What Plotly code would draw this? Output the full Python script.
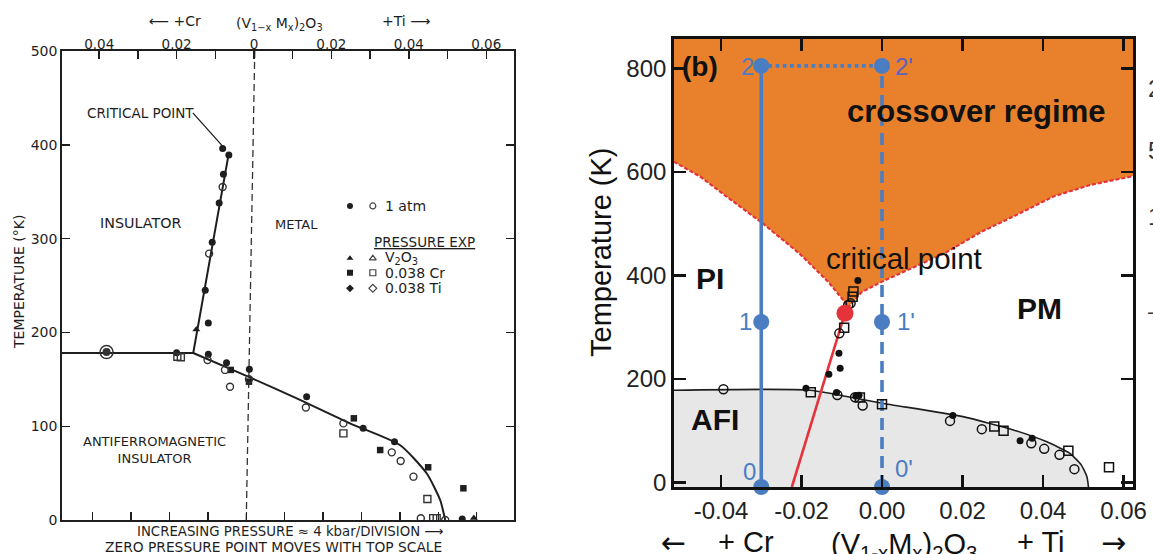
import plotly.graph_objects as go

W, H = 1153, 554

# ================= LEFT PANEL (original scanned phase diagram) =================
# phase boundaries (composition x, temperature K); Cr side negative
L_upper_x = [-0.0496, -0.0157, -0.0066]
L_upper_T = [178, 178, 389]
L_lower_x = [-0.0157, -0.0015, 0.0119, 0.0248, 0.0377, 0.0446, 0.0481, 0.0494]
L_lower_T = [178, 152.8, 128, 103.1, 80, 49.8, 21.3, 0]
L_pointer_x = [-0.0158, -0.0080]
L_pointer_T = [434, 398]
L_zero_x = [0.0002, -0.0020]
L_zero_T = [500, 0]

L_fc_x = [-0.0081, -0.0065, -0.0079, -0.0090, -0.0108, -0.0126, -0.0118, -0.0200,
          -0.0118, -0.0071, -0.0012, 0.0136, 0.0282, 0.0363, 0.0538]
L_fc_T = [396, 389, 368.5, 338, 296, 245, 210, 178.4, 176.6, 167.7, 160.6, 131.5,
          97.7, 83.5, 1]
L_ft_x = [-0.0149, 0.0568]
L_ft_T = [203, 2]
L_fs_x = [-0.0060, -0.0013, 0.0258, 0.0326, 0.0450, 0.0541]
L_fs_T = [160, 147.5, 108.4, 74.6, 56.2, 33.8]
L_oc_x = [-0.0081, -0.0116, -0.0120, -0.0075, -0.0062, -0.0013, 0.0134, 0.0231,
          0.0356, 0.0379, 0.0412, 0.0431, 0.0494]
L_oc_T = [355, 284, 170.6, 160, 142, 150, 120, 103, 72.1, 62.9, 46.2, 1.8, 0]
L_os_x = [-0.0198, -0.0189, 0.0231, 0.0448, 0.0463, 0.0472]
L_os_T = [174, 173.5, 92.4, 22.4, 2, 2]
L_big_x = [-0.0381]
L_big_T = [179]

# key (legend drawn inside the old figure)
L_key_T = [334.8, 279, 263.6, 247]
L_key_filled = ["circle", "triangle-up", "square", "diamond"]
L_key_open = ["circle-open", "triangle-up-open", "square-open", "diamond-open"]
L_key_labels = ["1 atm", "V<sub>2</sub>O<sub>3</sub>", "0.038 Cr", "0.038 Ti"]

L_xticks = [-0.04, -0.02, 0, 0.02, 0.04, 0.06]
L_xticktext = ["0.04", "0.02", "0", "0.02", "0.04", "0.06"]
L_yticks = [0, 100, 200, 300, 400, 500]
P_ticks = [-4, -3, -2, -1, 0, 1, 2, 3, 4, 5, 6]   # pressure divisions (4 kbar)

# ================= RIGHT PANEL (modern phase diagram) =================
R_cross_left_x = [-0.0517, -0.045, -0.0387, -0.0297, -0.0206, -0.0134, -0.0098, -0.0084]
R_cross_left_T = [620, 590, 553, 501, 443, 388, 354, 338]
R_cross_right_x = [-0.0084, -0.0052, 0.0, 0.0156, 0.0246, 0.0337, 0.0427, 0.0518, 0.0624]
R_cross_right_T = [338, 367, 388, 443, 484, 518, 553, 575, 592]

R_afi_x = [-0.0517, -0.0179, 0.0, 0.0201, 0.0326, 0.0408, 0.0466, 0.0495, 0.0509, 0.0513]
R_afi_T = [178, 178, 153, 127, 101.4, 78.8, 56.4, 33.8, 11.2, -9]

R_red_x = [-0.0224, -0.0092]
R_red_T = [-9, 327]
R_crit_x = [-0.0092]
R_crit_T = [327]

R_path_T = [-9, 310, 805]
R_path_x_solid = -0.03
R_path_x_dash = 0.0

R_fc_x = [-0.0189, -0.0113, -0.0065, -0.0057, 0.0176, 0.0343, 0.0373, -0.0060,
          -0.0107, -0.0104, -0.0132]
R_fc_T = [182, 173.5, 167, 168.5, 129, 80.2, 85.4, 390, 249.6, 220.6, 209]
R_oc_x = [-0.0394, -0.0111, -0.0067, -0.0048, 0.0169, 0.0248, 0.0371, 0.0403,
          0.0441, 0.0478, -0.0106, -0.0078, -0.0084]
R_oc_T = [180, 169, 164.6, 148.5, 118.8, 102.8, 75.7, 64.7, 53.1, 25.5, 288, 346, 343]
R_os_x = [-0.0177, -0.0055, 0.0, 0.0279, 0.0302, 0.0463, 0.0564, -0.0094, -0.0071, -0.0073]
R_os_T = [174, 164, 151, 107.8, 99.5, 60.9, 29.4, 299, 368.7, 359]

R_xticks = [-0.04, -0.02, 0.0, 0.02, 0.04, 0.06]
R_xticktext = ["-0.04", "-0.02", "0.00", "0.02", "0.04", "0.06"]
R_yticks = [0, 200, 400, 600, 800]

R_xmin, R_xmax = -0.05168, 0.06236
R_Tmin, R_Tmax = -9, 857

# fragments of a neighbouring panel's labels, cut by the image edge
EDGE_texts = ["2", "5", "1", "–"]
EDGE_y = [88, 150, 216, 310]

# ---------------- colours / fonts ----------------
INK = "#1e1e1e"
BLUE = "#4a7dc2"
ORANGE = "#e9812c"
RED = "#e5333b"
GREY = "#e7e7e7"
OLD = "DejaVu Sans, Verdana, sans-serif"
NEW = "Liberation Sans, Arial, Helvetica, sans-serif"

fig = go.Figure()

def sc(x, y, xa, ya, **kw):
    fig.add_trace(go.Scatter(x=x, y=y, xaxis=xa, yaxis=ya, showlegend=False,
                             hoverinfo="skip", **kw))

# ---- left panel traces ----
sc(L_zero_x, L_zero_T, "x", "y", mode="lines", line=dict(color="#333", width=1.3, dash="7px,4px"))
sc(L_upper_x, L_upper_T, "x", "y", mode="lines", line=dict(color=INK, width=2))
sc(L_lower_x, L_lower_T, "x", "y", mode="lines", line=dict(color=INK, width=2, shape="spline", smoothing=0.6))
sc(L_pointer_x, L_pointer_T, "x", "y", mode="lines", line=dict(color=INK, width=1.3))
sc(L_fc_x, L_fc_T, "x", "y", mode="markers", marker=dict(symbol="circle", size=7, color=INK))
sc(L_ft_x, L_ft_T, "x", "y", mode="markers", marker=dict(symbol="triangle-up", size=7, color=INK))
sc(L_fs_x, L_fs_T, "x", "y", mode="markers", marker=dict(symbol="square", size=6.5, color=INK))
sc(L_oc_x, L_oc_T, "x", "y", mode="markers",
   marker=dict(symbol="circle-open", size=7, color="#333", line=dict(width=1.4)))
sc(L_os_x, L_os_T, "x", "y", mode="markers",
   marker=dict(symbol="square-open", size=7, color="#333", line=dict(width=1.4)))
sc(L_big_x, L_big_T, "x", "y", mode="markers",
   marker=dict(symbol="circle-open", size=13, color="#333", line=dict(width=1.5)))
sc(L_big_x, L_big_T, "x", "y", mode="markers", marker=dict(symbol="circle", size=8, color="#333"))
# key markers
sc([0.0248] * 4, L_key_T, "x", "y", mode="markers",
   marker=dict(symbol=L_key_filled, size=6, color=INK))
sc([0.0307] * 4, L_key_T, "x", "y", mode="markers",
   marker=dict(symbol=L_key_open, size=6, color="#444", line=dict(width=1.2)))
# bottom pressure-division axis (ticks only)
sc(P_ticks, [None] * len(P_ticks), "x3", "y", mode="markers", marker=dict(size=1, opacity=0))

# ---- right panel traces ----
sc(R_afi_x + [R_xmin], R_afi_T + [R_Tmin], "x2", "y2", mode="lines",
   fill="toself", fillcolor=GREY, line=dict(width=0))
cx = R_cross_left_x + R_cross_right_x[1:]
cT = R_cross_left_T + R_cross_right_T[1:]
sc(cx + [R_xmax, R_xmin], cT + [R_Tmax, R_Tmax], "x2", "y2", mode="lines",
   fill="toself", fillcolor=ORANGE, line=dict(width=0))
sc(cx, cT, "x2", "y2", mode="lines", line=dict(color=RED, width=2.2, dash="4px,2px"))
sc(R_afi_x, R_afi_T, "x2", "y2", mode="lines", line=dict(color=INK, width=1.6, shape="spline", smoothing=0.5))
sc(R_red_x, R_red_T, "x2", "y2", mode="lines", line=dict(color=RED, width=2.6))
sc([R_path_x_solid] * 3, R_path_T, "x2", "y2", mode="lines", line=dict(color=BLUE, width=3.6))
sc([R_path_x_dash] * 3, R_path_T, "x2", "y2", mode="lines", line=dict(color=BLUE, width=3.6, dash="12px,7px"))
sc([R_path_x_solid, R_path_x_dash], [R_path_T[2]] * 2, "x2", "y2", mode="lines",
   line=dict(color=BLUE, width=3.6, dash="dot"))
sc(R_fc_x, R_fc_T, "x2", "y2", mode="markers", marker=dict(symbol="circle", size=7, color="#111"))
sc(R_oc_x, R_oc_T, "x2", "y2", mode="markers",
   marker=dict(symbol="circle-open", size=9, color="#111", line=dict(width=1.5)))
sc(R_os_x, R_os_T, "x2", "y2", mode="markers",
   marker=dict(symbol="square-open", size=9, color="#111", line=dict(width=1.5)))
sc(R_crit_x, R_crit_T, "x2", "y2", mode="markers", marker=dict(symbol="circle", size=17, color=RED),
   cliponaxis=False)
sc([R_path_x_solid] * 3 + [R_path_x_dash] * 3, R_path_T * 2, "x2", "y2", mode="markers",
   marker=dict(symbol="circle", size=16, color=BLUE), cliponaxis=False)

# ---------------- annotations ----------------
ann = []
def txt(text, x, y, xref, yref, size, family, color=INK, xanchor="center", yanchor="middle", angle=0):
    ann.append(dict(text=text, x=x, y=y, xref=xref, yref=yref, showarrow=False,
                    font=dict(size=size, family=family, color=color),
                    xanchor=xanchor, yanchor=yanchor, textangle=angle))

# left panel labels
txt("CRITICAL POINT", -0.0292, 434, "x", "y", 13.5, OLD)
txt("INSULATOR", -0.0292, 316.6, "x", "y", 14.3, OLD)
txt("METAL", 0.011, 315.2, "x", "y", 13, OLD)
txt("ANTIFERROMAGNETIC<br>INSULATOR", -0.0258, 75, "x", "y", 13, OLD)
for lab, T in zip(L_key_labels, L_key_T):
    txt(lab, 0.0334, T, "x", "y", 14, OLD, xanchor="left")
txt("<u>PRESSURE EXP</u>", 0.0304, 296.7, "x", "y", 13.5, OLD, xanchor="left")
txt("TEMPERATURE (°K)", 19 / W, 1 - 282 / H, "paper", "paper", 14, OLD, angle=-90)
txt("INCREASING PRESSURE ≈ 4 kbar/DIVISION ⟶", 290 / W, 1 - 531 / H, "paper", "paper", 13.3, OLD)
txt("ZERO PRESSURE POINT MOVES WITH TOP SCALE", 273 / W, 1 - 547 / H, "paper", "paper", 13.8, OLD)
txt("⟵ +Cr", 175 / W, 1 - 21 / H, "paper", "paper", 14, OLD)
txt("(V<sub>1−x</sub> M<sub>x</sub>)<sub>2</sub>O<sub>3</sub>", 279 / W, 1 - 24 / H, "paper", "paper", 14, OLD)
txt("+Ti ⟶", 406 / W, 1 - 21 / H, "paper", "paper", 14, OLD)

# right panel labels
txt("<b>(b)</b>", 700 / W, 1 - 66 / H, "paper", "paper", 28, NEW, color="#111")
txt("<b>crossover regime</b>", 976 / W, 1 - 112 / H, "paper", "paper", 31, NEW, color="#111")
txt("critical point", 904 / W, 1 - 258 / H, "paper", "paper", 29.5, NEW, color="#111")
txt("<b>PI</b>", 710 / W, 1 - 278 / H, "paper", "paper", 30, NEW, color="#111")
txt("<b>PM</b>", 1039 / W, 1 - 308 / H, "paper", "paper", 30, NEW, color="#111")
txt("<b>AFI</b>", 715 / W, 1 - 419 / H, "paper", "paper", 30, NEW, color="#111")
txt("2", 747 / W, 1 - 67 / H, "paper", "paper", 24, NEW, color=BLUE)
txt("2'", 904 / W, 1 - 67 / H, "paper", "paper", 24, NEW, color="#5a62c4")
txt("1", 745 / W, 1 - 321 / H, "paper", "paper", 24, NEW, color=BLUE)
txt("1'", 906 / W, 1 - 321 / H, "paper", "paper", 24, NEW, color=BLUE)
txt("0", 749 / W, 1 - 471 / H, "paper", "paper", 24, NEW, color=BLUE)
txt("0'", 904 / W, 1 - 468 / H, "paper", "paper", 24, NEW, color=BLUE)
txt("Temperature (K)", 601 / W, 1 - 252 / H, "paper", "paper", 29, NEW, color="#111", angle=-90)
txt("←", 673 / W, 1 - 542 / H, "paper", "paper", 30, OLD, color="#111")
txt("+ Cr", 746 / W, 1 - 542 / H, "paper", "paper", 29, NEW, color="#111")
txt("(V<sub>1-x</sub>M<sub>x</sub>)<sub>2</sub>O<sub>3</sub>", 904 / W, 1 - 546 / H, "paper", "paper", 29, NEW, color="#111")
txt("+ Ti", 1041 / W, 1 - 542 / H, "paper", "paper", 29, NEW, color="#111")
txt("→", 1113 / W, 1 - 542 / H, "paper", "paper", 30, OLD, color="#111")
for t, yy in zip(EDGE_texts, EDGE_y):
    txt(t, 1146 / W, 1 - yy / H, "paper", "paper", 24, NEW, color="#333", xanchor="left")

common = dict(automargin=False, showgrid=False, zeroline=False)
fig.update_layout(
    width=W, height=H, margin=dict(l=0, r=0, t=0, b=0, autoexpand=False),
    paper_bgcolor="white", plot_bgcolor="rgba(0,0,0,0)",
    annotations=ann,
    xaxis=dict(domain=[62 / W, 514 / W], range=[-0.04961, 0.06718], anchor="y", side="top",
               tickvals=L_xticks, ticktext=L_xticktext, ticks="inside", ticklen=8, tickwidth=1.4,
               tickcolor=INK, showline=True, mirror=True, linecolor=INK, linewidth=1.8,
               ticklabelstandoff=-5,
               minor=dict(dtick=0.01, tick0=0, ticks="inside", ticklen=8, tickwidth=1.4, tickcolor=INK),
               tickfont=dict(family=OLD, size=13.5, color=INK), **common),
    yaxis=dict(domain=[1 - 520 / H, 1 - 51 / H], range=[0, 500], anchor="x",
               tickvals=L_yticks, ticks="inside", ticklen=8, tickwidth=1.4, tickcolor=INK,
               showline=True, mirror="ticks", linecolor=INK, linewidth=1.8,
               tickfont=dict(family=OLD, size=14, color=INK), **common),
    xaxis3=dict(overlaying="x", anchor="y", side="bottom", range=[-4.80, 6.97],
                tickvals=P_ticks, ticks="inside", ticklen=8, tickwidth=1.4, tickcolor=INK,
                showticklabels=False, showline=False, **common),
    xaxis2=dict(domain=[674 / W, 1133 / W], range=[R_xmin, R_xmax], anchor="y2",
                tickvals=R_xticks, ticktext=R_xticktext, ticks="inside", ticklen=12, tickwidth=2.5,
                tickcolor="#111", showline=True, mirror="ticks", linecolor="#111", linewidth=2.8,
                tickfont=dict(family=NEW, size=24, color="#222"), **common),
    yaxis2=dict(domain=[1 - 487 / H, 1 - 39 / H], range=[R_Tmin, R_Tmax], anchor="x2",
                tickvals=R_yticks, ticks="inside", ticklen=12, tickwidth=2.5, tickcolor="#111",
                showline=True, mirror="ticks", linecolor="#111", linewidth=2.8,
                tickfont=dict(family=NEW, size=24, color="#222"), **common),
)

fig.write_html("out.html", config={"displayModeBar": False, "staticPlot": True},
               post_script="document.body.style.margin='0';document.body.style.overflow='hidden';")
